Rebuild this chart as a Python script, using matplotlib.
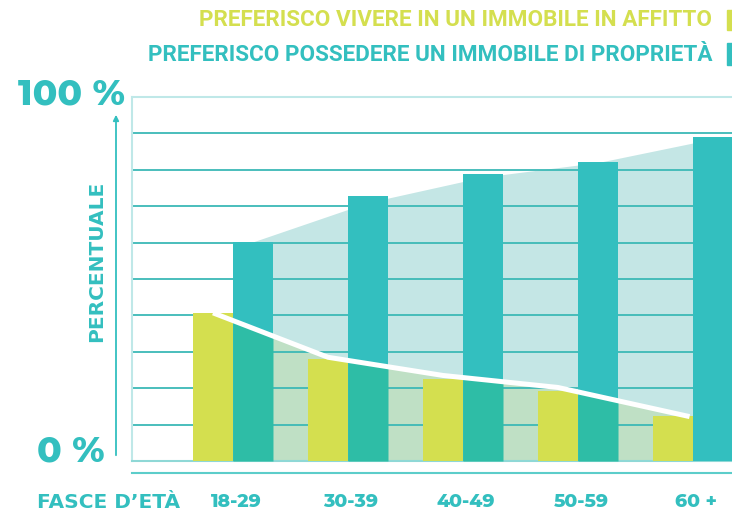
import numpy as np
import matplotlib.pyplot as plt
from matplotlib.lines import Line2D
from matplotlib.patches import FancyArrowPatch

# ---------------------------------------------------------------------
# Data (percent)
# ---------------------------------------------------------------------
age_groups = ["18-29", "30-39", "40-49", "50-59", "60 +"]
rent = [40.7, 28.0, 22.5, 19.2, 12.4]      # preferisco vivere in affitto
own = [60.2, 72.8, 78.8, 82.1, 89.0]       # preferisco possedere
rent_line = [40.7, 28.5, 23.5, 20.2, 12.2]  # white trend line
own_area = [60.2, 71.0, 78.0, 82.0, 88.5]   # upper edge of light teal area

legend_rent = "PREFERISCO VIVERE IN UN IMMOBILE IN AFFITTO"
legend_own = "PREFERISCO POSSEDERE UN IMMOBILE DI PROPRIETÀ"

# colours
TEAL = "#33bfbf"
TEAL_LOW = "#2ebda6"
YELLOW = "#d4df4f"
AREA_TEAL = "#c4e6e5"
AREA_GREEN = "#bfe0c5"
GRID = "#3cb9b6"
SPINE = "#bfe8e8"

DIGITS = ["Montserrat Alternates", "DejaVu Sans"]
WORDS = ["DejaVu Sans"]
LEGEND = ["Roboto", "DejaVu Sans"]

fig = plt.figure(figsize=(7.32, 5.14), dpi=100)
ax = fig.add_axes([132 / 732, 1 - 461 / 514, 600 / 732, 364 / 514])

idx = np.arange(len(age_groups))
w = 40 / 115

# areas behind the bars
ax.fill_between(idx + w / 2, 0, own_area, color=AREA_TEAL, lw=0, zorder=0.1)
line_x = np.r_[idx[:-1] - w / 2, idx[-1] - 0.03]
ax.fill_between(line_x, 0, rent_line, color=AREA_GREEN, lw=0, zorder=0.2)

# bars
ax.bar(idx, own, width=w, align="edge", color=TEAL, zorder=3)
for i in idx:
    xs = np.linspace(max(i, line_x[0]), min(i + w, line_x[-1]), 50)
    if xs[-1] <= xs[0]:
        continue
    top = np.minimum(np.interp(xs, line_x, rent_line), own[i])
    ax.fill_between(xs, 0, top, color=TEAL_LOW, lw=0, zorder=3.5)
ax.bar(idx - w, rent, width=w, align="edge", color=YELLOW, zorder=4)

# white trend line
ax.plot(line_x, rent_line, color="white", lw=3.6, solid_capstyle="butt",
        zorder=5)

# axes styling
ax.set_xlim(-0.878, 4.339)
ax.set_ylim(0, 100)
ax.set_yticks(np.arange(10, 100, 10))
ax.set_axisbelow(True)
ax.yaxis.grid(True, color=GRID, lw=1.3)
ax.tick_params(left=False, labelleft=False, bottom=False, labelbottom=False)
for side in ["top", "left"]:
    ax.spines[side].set_color(SPINE)
    ax.spines[side].set_linewidth(1.5)
ax.spines["bottom"].set_color("#8fd8d6")
ax.spines["bottom"].set_linewidth(1.5)
ax.spines["right"].set_visible(False)

# x labels under the chart
for i, lab in zip(idx, age_groups):
    ax.text(i + 0.025, -11.2, lab, ha="center", va="center", fontsize=13.5,
            fontweight=800, color=TEAL, family=DIGITS)
fig.text(37 / 732, 1 - 502 / 514, "FASCE D’ETÀ", ha="left", va="center",
         fontsize=14.5, fontweight="bold", color=TEAL, family=WORDS)

# extra line below the axis
fig.add_artist(Line2D([132 / 732, 1], [1 - 473 / 514] * 2, color="#5ccdca",
                      lw=1.5))

# y axis labels and arrow
fig.text(18 / 732, 1 - 105 / 514, "100 %", ha="left", va="baseline",
         fontsize=26, fontweight=800, color=TEAL, family=DIGITS)
fig.text(37 / 732, 1 - 461 / 514, "0 %", ha="left", va="baseline",
         fontsize=26, fontweight=800, color=TEAL, family=DIGITS)
fig.text(97 / 732, 1 - 261 / 514, "PERCENTUALE", rotation=90, ha="center",
         va="center", fontsize=14.5, fontweight="bold", color=TEAL,
         family=WORDS)
fig.add_artist(FancyArrowPatch((116 / 732, 1 - 458 / 514),
                               (116 / 732, 1 - 112 / 514),
                               transform=fig.transFigure, arrowstyle="-|>",
                               mutation_scale=8, color=TEAL, lw=1.3))

# legend
fig.text(712 / 732, 1 - 20 / 514, legend_rent, ha="right", va="center",
         fontsize=16.2, fontweight="bold", color=YELLOW, family=LEGEND)
fig.text(712 / 732, 1 - 55 / 514, legend_own, ha="right", va="center",
         fontsize=16.2, fontweight="bold", color=TEAL, family=LEGEND)
fig.add_artist(plt.Rectangle((727 / 732, 1 - 30 / 514), 6 / 732, 20 / 514,
                             transform=fig.transFigure, color=YELLOW))
fig.add_artist(plt.Rectangle((727 / 732, 1 - 65 / 514), 6 / 732, 22 / 514,
                             transform=fig.transFigure, color=TEAL))

fig.savefig("out.png", dpi=100)
